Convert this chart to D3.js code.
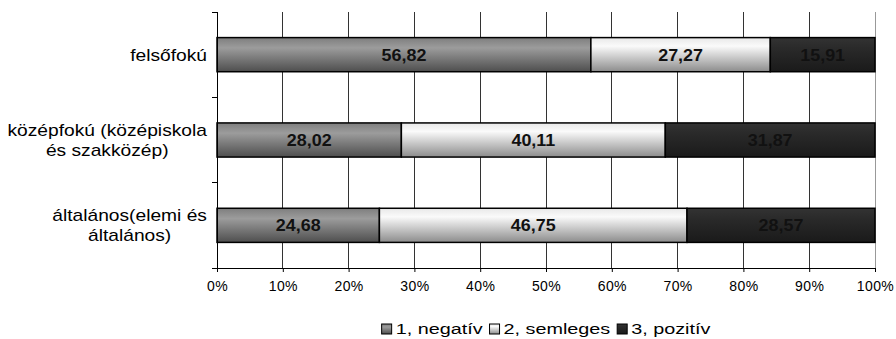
<!DOCTYPE html>
<html>
<head>
<meta charset="utf-8">
<script src="https://cdn.jsdelivr.net/npm/d3@7"></script>
<style>
  body { margin: 0; background: #fff; }
  text { font-family: "Liberation Sans", Arial, sans-serif; }
</style>
</head>
<body>
<div id="chart"></div>
<script>
// data
const categories = ["felsőfokú", "középfokú (középiskola\nés szakközép)", "általános(elemi és\náltalános)"];
const seriesNames = ["1, negatív", "2, semleges", "3, pozitív"];
const negativ = [56.82, 28.02, 24.68];
const semleges = [27.27, 40.11, 46.75];
const pozitiv = [15.91, 31.87, 28.57];
const tickValues = [0, 10, 20, 30, 40, 50, 60, 70, 80, 90, 100];

const width = 896, height = 339;
const margin = {top: 12, right: 21, bottom: 71, left: 217};
const stretch = 1.2; // the source font is drawn a bit wide

const svg = d3.select("#chart").append("svg")
    .attr("width", width)
    .attr("height", height);

// place a text with a horizontal stretch around its anchor point
function place(sel, px, py, sx) {
    sel.attr("x", 0).attr("y", 0)
       .attr("transform", `translate(${px},${py}) scale(${sx},1)`);
}

// vertical gradients like the old office bars
const defs = svg.append("defs");
const gradStops = [
    [["0%", "#7e7e7e"], ["30%", "#9c9c9c"], ["100%", "#4e4e4e"]],
    [["0%", "#e8e8e8"], ["25%", "#fafafa"], ["100%", "#8c8c8c"]],
    [["0%", "#333333"], ["30%", "#2a2a2a"], ["100%", "#1a1a1a"]]
];
gradStops.forEach((stops, i) => {
    const g = defs.append("linearGradient")
        .attr("id", "grad" + i)
        .attr("x1", "0%").attr("x2", "0%")
        .attr("y1", "0%").attr("y2", "100%");
    stops.forEach(s => g.append("stop").attr("offset", s[0]).attr("stop-color", s[1]));
});

const x = d3.scaleLinear()
    .domain([0, 100])
    .range([margin.left, width - margin.right]);

const y = d3.scaleBand()
    .domain(categories)
    .range([margin.top, height - margin.bottom])
    .paddingInner(0.6)
    .paddingOuter(0.3);

// gridlines
svg.append("g")
    .selectAll("line")
    .data(tickValues.slice(1))
    .enter().append("line")
      .attr("x1", d => x(d)).attr("x2", d => x(d))
      .attr("y1", margin.top).attr("y2", height - margin.bottom)
      .attr("stroke", d => d === 100 ? "#999" : "#333")
      .attr("stroke-width", 1)
      .attr("shape-rendering", "crispEdges");

// stacked data
const rows = categories.map((c, i) => ({cat: c, v: [negativ[i], semleges[i], pozitiv[i]]}));
const stack = d3.stack().keys([0, 1, 2]).value((d, k) => d.v[k]);
const layers = stack(rows);

const layerG = svg.append("g")
    .selectAll("g")
    .data(layers)
    .enter().append("g")
      .attr("fill", (d, i) => `url(#grad${i})`);

layerG.selectAll("rect")
    .data(d => d)
    .enter().append("rect")
      .attr("x", d => x(d[0]))
      .attr("y", d => y(d.data.cat))
      .attr("width", d => x(d[1]) - x(d[0]))
      .attr("height", y.bandwidth())
      .attr("stroke", "#000")
      .attr("stroke-width", 1.5);

// value labels
layers.forEach((layer, k) => {
    layer.forEach(d => {
        const t = svg.append("text")
            .attr("text-anchor", "middle")
            .style("font-size", "16px")
            .style("font-weight", "bold")
            .attr("fill", "#111")
            .text(d.data.v[k].toFixed(2).replace(".", ","));
        place(t, (x(d[0]) + x(d[1])) / 2, y(d.data.cat) + y.bandwidth() / 2 + 6, 1.12);
    });
});

// x axis
const xAxis = d3.axisBottom(x)
    .tickValues(tickValues)
    .tickFormat(d => d + "%")
    .tickSize(4)
    .tickPadding(9);

const gx = svg.append("g")
    .attr("transform", `translate(0,${height - margin.bottom})`)
    .call(xAxis);
gx.select(".domain").attr("stroke", "#000").attr("d", `M${margin.left - 5},0.5H${width - margin.right}`);
gx.selectAll(".tick line").attr("stroke", "#000");
gx.selectAll("text")
    .style("font-size", "14px")
    .style("letter-spacing", "0.4px")
    .attr("fill", "#000");

// y axis line and ticks at band boundaries
const boundaries = [margin.top];
for (let i = 1; i < categories.length; i++) {
    boundaries.push((y(categories[i - 1]) + y.bandwidth() + y(categories[i])) / 2);
}
boundaries.push(height - margin.bottom);
svg.append("line")
    .attr("x1", margin.left).attr("x2", margin.left)
    .attr("y1", margin.top).attr("y2", height - margin.bottom)
    .attr("stroke", "#000")
    .attr("shape-rendering", "crispEdges");
svg.append("g")
    .selectAll("line")
    .data(boundaries)
    .enter().append("line")
      .attr("x1", margin.left - 5).attr("x2", margin.left)
      .attr("y1", d => d).attr("y2", d => d)
      .attr("stroke", "#000")
      .attr("shape-rendering", "crispEdges");

// category labels: block right-aligned, lines centred inside block
categories.forEach(c => {
    const lines = c.split("\n");
    const texts = lines.map(line => svg.append("text")
        .attr("text-anchor", "middle")
        .style("font-size", "16px")
        .attr("fill", "#000")
        .text(line));
    const widest = d3.max(texts, t => t.node().getComputedTextLength()) * stretch;
    const cx = margin.left - 10 - widest / 2;
    texts.forEach((t, i) =>
        place(t, cx, y(c) + y.bandwidth() / 2 + 6 + (i - (lines.length - 1) / 2) * 20, stretch));
});

// legend
const legend = svg.append("g");
let lx = 0;
seriesNames.forEach((name, i) => {
    const item = legend.append("g").attr("transform", `translate(${lx},0)`);
    item.append("rect")
        .attr("x", 0).attr("y", -10)
        .attr("width", 10).attr("height", 10)
        .attr("fill", `url(#grad${i})`)
        .attr("stroke", "#000")
        .attr("stroke-width", 1);
    const t = item.append("text")
        .style("font-size", "15px")
        .attr("fill", "#000")
        .text(name);
    place(t, 14, 0, 1.32);
    lx += 14 + t.node().getComputedTextLength() * 1.32 + 7;
});
legend.attr("transform", `translate(${(margin.left + width - margin.right - lx + 7) / 2},334)`);
</script>
</body>
</html>
